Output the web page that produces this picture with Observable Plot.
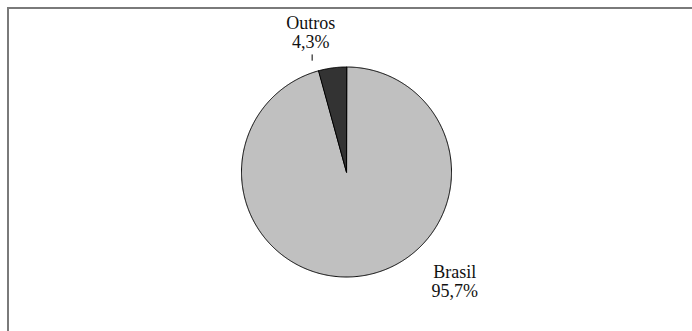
<!DOCTYPE html>
<html>
<head>
<meta charset="utf-8">
<script src="https://cdn.jsdelivr.net/npm/d3@7"></script>
<script src="https://cdn.jsdelivr.net/npm/@observablehq/plot@0.6"></script>
<style>
  html, body { margin: 0; padding: 0; background: #fff; overflow: hidden; }
  #wrap { position: relative; width: 692px; height: 331px; overflow: hidden;
          font-family: "Liberation Serif", serif; }
  #frame {
    position: absolute; left: 7px; top: 7px; width: 720px; height: 360px;
    border-top: 2px solid #7a7a7a; border-left: 2px solid #7a7a7a;
    box-sizing: border-box; pointer-events: none;
  }
  #wrap svg { position: absolute; left: 0; top: 0; }
  #wrap svg text, #wrap svg tspan { font-family: "Liberation Serif", serif !important; }
</style>
</head>
<body>
<div id="wrap"><div id="frame"></div></div>
<script>
// Participação no total (%)
const categories = ["Brasil", "Outros"];
const shares = [95.7, 4.3];
const sliceColors = ["#c0c0c0", "#333333"];

const rows = categories.map((name, i) => ({name, share: shares[i]}));

// Slice angles, clockwise from 12 o'clock, in data order
const arcs = d3.pie().sort(null).value(d => d.share)(rows);

// Each slice as a closed polygon in unit-circle coordinates
const step = Math.PI / 360;
const polygon = [];
for (const a of arcs) {
  polygon.push({name: a.data.name, x: 0, y: 0});
  const n = Math.max(2, Math.ceil((a.endAngle - a.startAngle) / step));
  for (let k = 0; k <= n; ++k) {
    const t = a.startAngle + (a.endAngle - a.startAngle) * k / n;
    polygon.push({name: a.data.name, x: Math.sin(t), y: Math.cos(t)});
  }
}

// Label anchors at the middle of each slice's rim
const fmt = v => v.toFixed(1).replace(".", ",") + "%";
const labels = arcs.map(a => {
  const m = (a.startAngle + a.endAngle) / 2;
  return {
    name: a.data.name,
    text: a.data.name + "\n" + fmt(a.data.share),
    x: Math.sin(m), y: Math.cos(m),
    lx: Math.sin(m) * 1.1, ly1: Math.cos(m) * 1.07, ly2: Math.cos(m) * 1.13
  };
});

const serif = "Liberation Serif";

const chart = Plot.plot({
  width: 692,
  height: 331,
  margin: 0,
  axis: null,
  x: {domain: [-1, 1], range: [241, 451]},
  y: {domain: [-1, 1], range: [276.5, 66.5]},
  color: {domain: categories, range: sliceColors},
  style: {background: "transparent", fontFamily: serif},
  marks: [
    Plot.line(polygon, {
      x: "x", y: "y", z: "name", fill: "name",
      stroke: "#000", strokeWidth: 1, strokeLinejoin: "round",
      curve: "linear-closed"
    }),
    Plot.link(labels.filter(d => d.name === "Outros"), {
      x1: "lx", x2: "lx", y1: "ly1", y2: "ly2",
      dx: -18.8, stroke: "#000", strokeWidth: 1
    }),
    Plot.text(labels.filter(d => d.name === "Outros"), {
      x: "x", y: "y", text: "text", dx: -21.5, dy: -35.7,
      fontSize: 18, lineHeight: 1.055, lineAnchor: "middle",
      textAnchor: "middle", fill: "#111", fontFamily: serif
    }),
    Plot.text(labels.filter(d => d.name === "Brasil"), {
      x: "x", y: "y", text: "text", dx: 94, dy: 5,
      fontSize: 18, lineHeight: 1.055, lineAnchor: "middle",
      textAnchor: "middle", fill: "#111", fontFamily: serif
    })
  ]
});

document.getElementById("wrap").prepend(chart);
</script>
</body>
</html>
